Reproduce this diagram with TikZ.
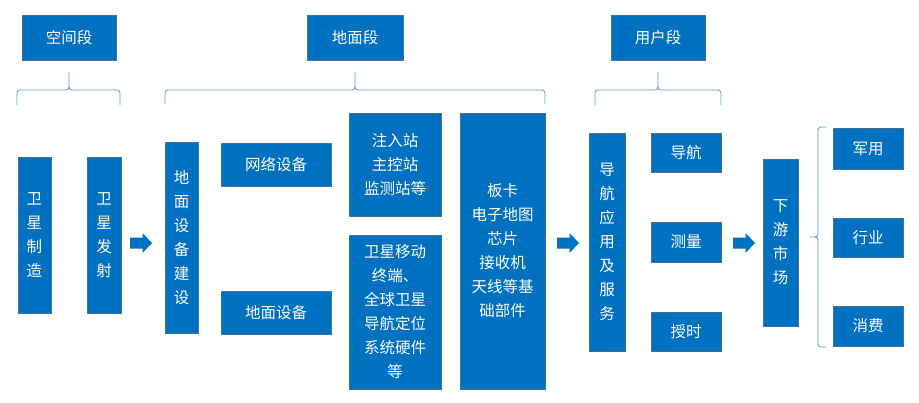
\documentclass[tikz,border=0pt]{standalone}
\usepackage{fontspec}
\newfontfamily\cjk{Noto Sans CJK SC}
\definecolor{boxblue}{HTML}{0070C0}
\definecolor{boxedge}{HTML}{41719C}
\definecolor{bracecol}{HTML}{5B9BD5}
\newcommand\bx[6]{\node[box,minimum width={#4-#2},minimum height={#5-#3}] (#1) at ({(#2+#4)/2},{(#3+#5)/2}) {#6};}
\newcommand\hbr[6]{% left, right, tip x, y, bottom, top
  \draw[bracepath] (#1,#5) -- (#1,#4+3) to[out=90,in=180] (#1+3,#4) -- (#3-3,#4) to[out=0,in=-90] (#3,#4-3) -- (#3,#6);
  \draw[bracepath] (#3,#4-3) to[out=-90,in=180] (#3+3,#4) -- (#2-3,#4) to[out=0,in=90] (#2,#4+3) -- (#2,#5);}
\newcommand\barrow[3]{% name, centre x, centre y
  \coordinate (#1) at (#2,#3);
  \fill[boxblue] (#2-11,#3-5.5) -- (#2+1.5,#3-5.5) -- (#2+1.5,#3-10) -- (#2+11,#3) -- (#2+1.5,#3+10) -- (#2+1.5,#3+5.5) -- (#2-11,#3+5.5) -- cycle;}
\tikzset{
  box/.style={draw=boxedge,line width=0.7pt,fill=boxblue,text=white,inner sep=0pt,align=center,
    font=\cjk\fontsize{15.5}{24}\selectfont},
  bracepath/.style={draw=bracecol,line width=0.8pt},
}
\begin{document}
\begin{tikzpicture}[x=1pt,y=-1pt]
\useasboundingbox[fill=white] (0,0) rectangle (919,402);
% top labels
\bx{space}{22}{15}{116}{60}{空间段}
\bx{ground}{307}{15}{403}{60}{地面段}
\bx{user}{611}{15}{705}{60}{用户段}
% braces
\hbr{17}{120}{69}{90}{105}{72}
\hbr{165}{545}{355}{90}{104}{72}
\hbr{595}{721}{658}{90}{105}{72}
% space segment
\bx{make}{18}{157}{51}{313}{卫\\星\\制\\造}
\bx{launch}{87}{157}{121}{313}{卫\\星\\发\\射}
\barrow{a1}{141}{243}
% ground segment
\bx{build}{165}{142}{198}{333}{地\\面\\设\\备\\建\\设}
\bx{net}{221}{143}{331}{186}{网络设备}
\bx{gdev}{221}{291}{331}{334}{地面设备}
\bx{stations}{349}{113}{441}{216}{注入站\\主控站\\监测站等}
\bx{terminal}{349}{235}{441}{389}{卫星移动\\终端、\\全球卫星\\导航定位\\系统硬件\\等}
\bx{parts}{460}{113}{545}{389}{板卡\\电子地图\\芯片\\接收机\\天线等基\\础部件}
\barrow{a2}{568}{243}
% user segment
\bx{app}{589}{133}{625}{351}{导\\航\\应\\用\\及\\服\\务}
\bx{nav}{651}{133}{721}{172}{导航}
\bx{meas}{651}{222}{721}{262}{测量}
\bx{timing}{651}{312}{721}{351}{授时}
\barrow{a3}{744}{243}
% downstream
\bx{market}{763}{159}{798}{326}{下\\游\\市\\场}
\draw[bracepath] (826,127) -- (821,127) to[out=180,in=90] (818,130) -- (818,234) to[out=-90,in=0] (815,237) -- (810,237);
\draw[bracepath] (815,237) to[out=0,in=90] (818,240) -- (818,344) to[out=-90,in=180] (821,347) -- (826,347);
\bx{mil}{833}{128}{903}{169}{军用}
\bx{ind}{833}{218}{903}{257}{行业}
\bx{cons}{833}{306}{903}{346}{消费}
\end{tikzpicture}
\end{document}
